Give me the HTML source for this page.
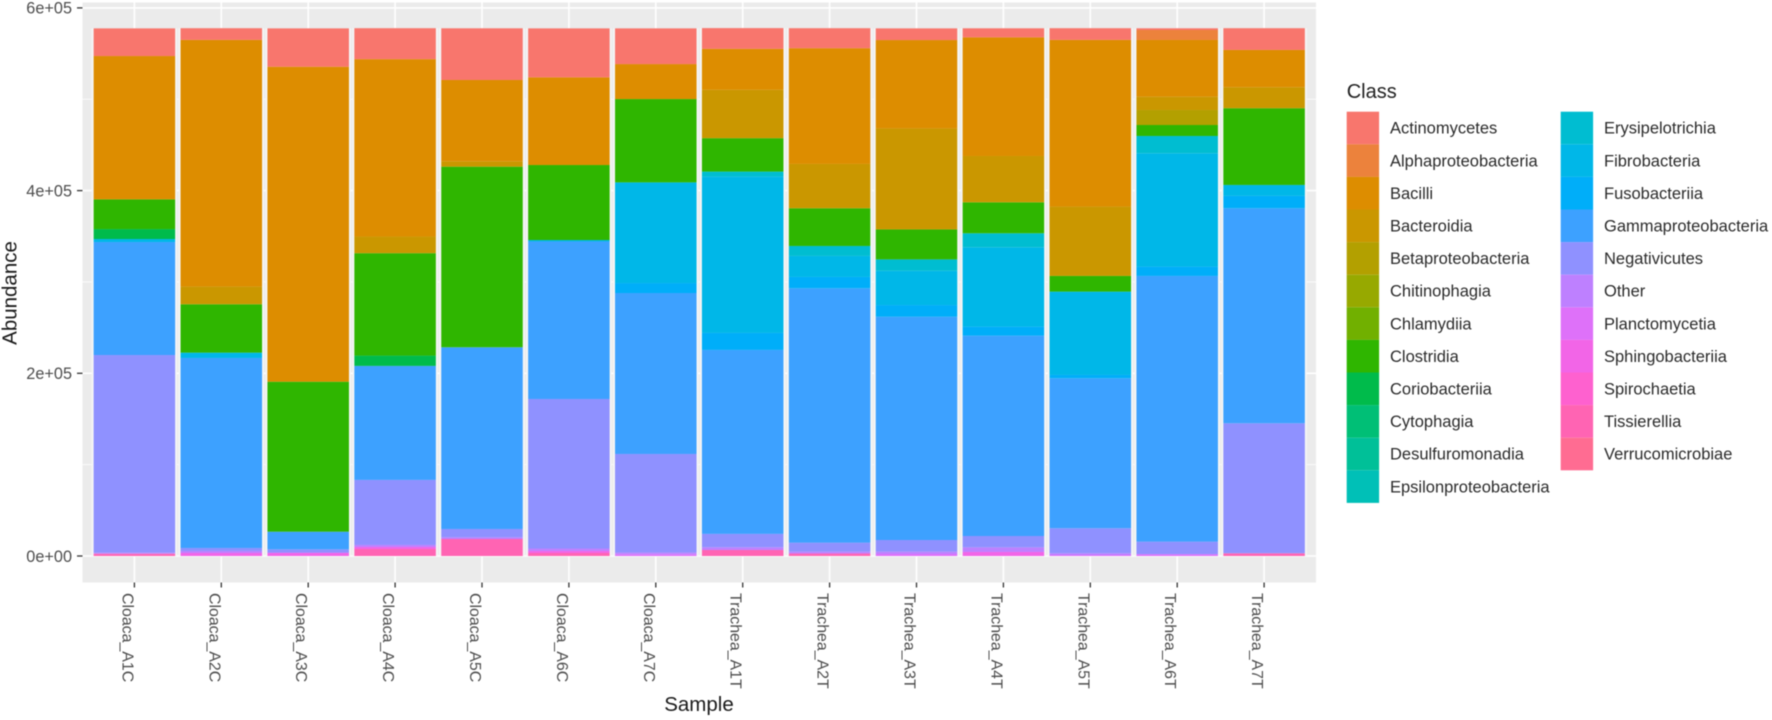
<!DOCTYPE html>
<html lang="en">
<head>
<meta charset="utf-8">
<title>Abundance by sample and class</title>
<style>
html,body{margin:0;padding:0;background:#fff;width:1772px;height:720px;overflow:hidden}
svg{display:block;font-family:"Liberation Sans",Arial,sans-serif;filter:blur(0.45px)}
</style>
</head>
<body>
<svg id="chart" xmlns="http://www.w3.org/2000/svg" width="1772" height="720" viewBox="0 0 1772 720">
  <rect x="0" y="0" width="1772" height="720" fill="#ffffff"/>
  <rect x="82.5" y="2.5" width="1233.5" height="580" fill="#ebebeb"/>
  <g id="grid"></g>
  <g id="bars"></g>
  <g id="y-axis"></g>
  <g id="x-axis"></g>
  <text transform="translate(16.5,293) rotate(-90)" text-anchor="middle" font-size="20.5" fill="#1a1a1a">Abundance</text>
  <text x="699" y="711" text-anchor="middle" font-size="20.5" fill="#1a1a1a">Sample</text>
  <g id="legend">
    <text x="1346.7" y="98" font-size="20" fill="#222222">Class</text>
  </g>
</svg>
<script>
const samples = ['Cloaca_A1C','Cloaca_A2C','Cloaca_A3C','Cloaca_A4C','Cloaca_A5C','Cloaca_A6C','Cloaca_A7C','Trachea_A1T','Trachea_A2T','Trachea_A3T','Trachea_A4T','Trachea_A5T','Trachea_A6T','Trachea_A7T'];
const classNames = ['Actinomycetes','Alphaproteobacteria','Bacilli','Bacteroidia','Betaproteobacteria','Chitinophagia','Chlamydiia','Clostridia','Coriobacteriia','Cytophagia','Desulfuromonadia','Epsilonproteobacteria','Erysipelotrichia','Fibrobacteria','Fusobacteriia','Gammaproteobacteria','Negativicutes','Other','Planctomycetia','Sphingobacteriia','Spirochaetia','Tissierellia','Verrucomicrobiae'];
const yTickValues = [0, 200000, 400000, 600000];
const yTickLabels = ['0e+00', '2e+05', '4e+05', '6e+05'];
const yMinorValues = [100000, 300000, 500000];

const actinomycetes = [30300,12800,42000,33900,56600,53600,39100,22700,21900,12800,9900,12800,1900,23800];
const alphaproteobacteria = [0,0,0,0,0,0,0,0,0,0,0,0,10900,0];
const bacilli = [156900,270100,344800,194200,89000,96000,38300,44900,126700,96700,129900,182500,62100,40800];
const bacteroidia = [0,19300,0,18200,5900,0,0,52900,48500,110600,50700,75900,14600,23000];
const betaproteobacteria = [0,0,0,0,0,0,0,0,0,0,0,0,16400,0];
const chitinophagia = [0,0,0,0,0,0,0,0,0,0,0,0,0,0];
const chlamydiia = [0,0,0,0,0,0,0,0,0,0,0,0,0,0];
const clostridia = [32500,53000,164200,112100,197700,82100,91200,36600,41300,32800,33900,17200,12000,84000];
const coriobacteriia = [10900,0,0,11300,0,0,0,0,0,0,0,0,0,0];
const cytophagia = [0,0,0,0,0,0,0,0,0,0,0,0,0,0];
const desulfuromonadia = [0,0,0,0,0,0,0,0,0,0,0,0,0,0];
const epsilonproteobacteria = [0,0,0,0,0,0,0,0,0,0,0,0,0,0];
const erysipelotrichia = [0,0,0,0,0,0,0,5500,10900,12500,15300,0,18900,0];
const fibrobacteria = [3300,5800,0,0,0,1600,110200,171100,23000,37500,86900,91200,124100,12000];
const fusobacteriia = [0,0,0,0,0,0,10900,18600,12400,12800,9900,3600,10200,13500];
const gammaproteobacteria = [123700,208000,19300,124800,198900,172400,176200,201400,278500,244400,219300,164200,290900,235400];
const negativicutes = [216400,3300,3500,71200,9100,163700,108000,14600,9900,12800,12400,27400,13500,142300];
const other = [1100,2200,500,2200,1900,2700,1800,3000,2000,2500,5100,1900,500,0];
const planctomycetia = [0,0,0,0,0,0,1900,0,0,2200,0,1100,1700,0];
const sphingobacteriia = [0,3300,3300,2200,0,2200,0,0,0,0,4400,0,0,0];
const spirochaetia = [0,0,0,0,0,0,0,0,0,0,0,0,0,0];
const tissierellia = [2500,0,0,7700,18600,3300,0,6600,2700,0,0,0,0,3000];
const verrucomicrobiae = [0,0,0,0,0,0,0,0,0,0,0,0,0,0];

const seriesByClass = [actinomycetes,alphaproteobacteria,bacilli,bacteroidia,betaproteobacteria,chitinophagia,chlamydiia,clostridia,coriobacteriia,cytophagia,desulfuromonadia,epsilonproteobacteria,erysipelotrichia,fibrobacteria,fusobacteriia,gammaproteobacteria,negativicutes,other,planctomycetia,sphingobacteriia,spirochaetia,tissierellia,verrucomicrobiae];

const NS = 'http://www.w3.org/2000/svg';
function xScale(i){ return 134.4 + i * 86.9; }
function yScale(v){ return 556 - v * (182.7 / 200000); }
const barWidth = 81.5;

function hcl(h, c, l){
  const rad = h * Math.PI / 180;
  const u = c * Math.cos(rad), v = c * Math.sin(rad);
  const Y = Math.pow((l + 16) / 116, 3);
  const up = u / (13 * l) + 0.1978398, vp = v / (13 * l) + 0.4683363;
  const X = 9 * Y * up / (4 * vp);
  const Z = -X / 3 - 5 * Y + 3 * Y / vp;
  const lin = [3.2406*X - 1.5372*Y - 0.4986*Z, -0.9689*X + 1.8758*Y + 0.0415*Z, 0.0557*X - 0.2040*Y + 1.0570*Z];
  const out = lin.map(function(t){
    const g = t <= 0.0031308 ? 12.92 * t : 1.055 * Math.pow(t, 1 / 2.4) - 0.055;
    return Math.max(0, Math.min(255, Math.round(g * 255)));
  });
  return 'rgb(' + out.join(',') + ')';
}
function classColor(i){ return hcl(15 + 360 * i / classNames.length, 100, 65); }
function make(tag, attrs){
  const el = document.createElementNS(NS, tag);
  Object.keys(attrs).forEach(function(k){ el.setAttribute(k, attrs[k]); });
  return el;
}

const grid = document.getElementById('grid');
yMinorValues.forEach(function(v){
  const el = make('line', {x1:82.5, x2:1316, y1:yScale(v), y2:yScale(v), stroke:'#ffffff', 'stroke-width':0.8});
  
  
  grid.appendChild(el);
});
yTickValues.forEach(function(v){
  const el = make('line', {x1:82.5, x2:1316, y1:yScale(v), y2:yScale(v), stroke:'#ffffff', 'stroke-width':1.6});
  
  
  grid.appendChild(el);
});
samples.forEach(function(s, i){
  const el = make('line', {x1:xScale(i), x2:xScale(i), y1:2.5, y2:582.5, stroke:'#ffffff', 'stroke-width':1.6});
  
  
  grid.appendChild(el);
});

const bars = document.getElementById('bars');
samples.forEach(function(s, i){
  let total = 0;
  for (let c = 0; c < seriesByClass.length; c++) {
    total += seriesByClass[c][i];
  }
  const halo = make('rect', {x:xScale(i) - barWidth / 2 - 2, y:yScale(total), width:barWidth + 4, height:yScale(0) - yScale(total), fill:'#f5f5f5'});
  
  
  bars.appendChild(halo);
  let base = 0;
  for (let c = seriesByClass.length - 1; c >= 0; c--) {
    const val = seriesByClass[c][i];
    if (val > 0) {
      const top = yScale(base + val);
      const el = make('rect', {x:xScale(i) - barWidth / 2, y:top, width:barWidth, height:yScale(base) - top, fill:classColor(c)});
      
      
      el.setAttribute('data-sample', s);
      el.setAttribute('data-class', classNames[c]);
      bars.appendChild(el);
    }
    base += val;
  }
});

const yAxis = document.getElementById('y-axis');
yTickValues.forEach(function(v, i){
  const tick = make('line', {x1:77, x2:82.5, y1:yScale(v), y2:yScale(v), stroke:'#333333', 'stroke-width':1.3});
  
  
  yAxis.appendChild(tick);
  const label = make('text', {x:72, y:yScale(v) + 5.8, 'text-anchor':'end', 'font-size':16.3, fill:'#4d4d4d'});
  
  
  label.textContent = yTickLabels[i];
  yAxis.appendChild(label);
});

const xAxis = document.getElementById('x-axis');
samples.forEach(function(s, i){
  const tick = make('line', {x1:xScale(i), x2:xScale(i), y1:582.5, y2:587.5, stroke:'#333333', 'stroke-width':1.3});
  
  
  xAxis.appendChild(tick);
  const label = make('text', {transform:'translate(' + (xScale(i) - 12) + ',593) rotate(90)', 'font-size':15.9, fill:'#4d4d4d'});
  
  
  label.textContent = s;
  xAxis.appendChild(label);
});

const legend = document.getElementById('legend');
classNames.forEach(function(name, i){
  const col = i < 12 ? 0 : 1;
  const row = i < 12 ? i : i - 12;
  const keyX = col === 0 ? 1346.7 : 1560.7;
  const textX = col === 0 ? 1390 : 1604;
  const keyY = 111.7 + row * 32.6;
  const key = make('rect', {x:keyX, y:keyY, width:32.4, height:32.6, fill:classColor(i)});
  
  
  legend.appendChild(key);
  const label = make('text', {x:textX, y:keyY + 22, 'font-size':16.5, fill:'#2b2b2b'});
  
  
  label.textContent = name;
  legend.appendChild(label);
});
</script>
</body>
</html>
